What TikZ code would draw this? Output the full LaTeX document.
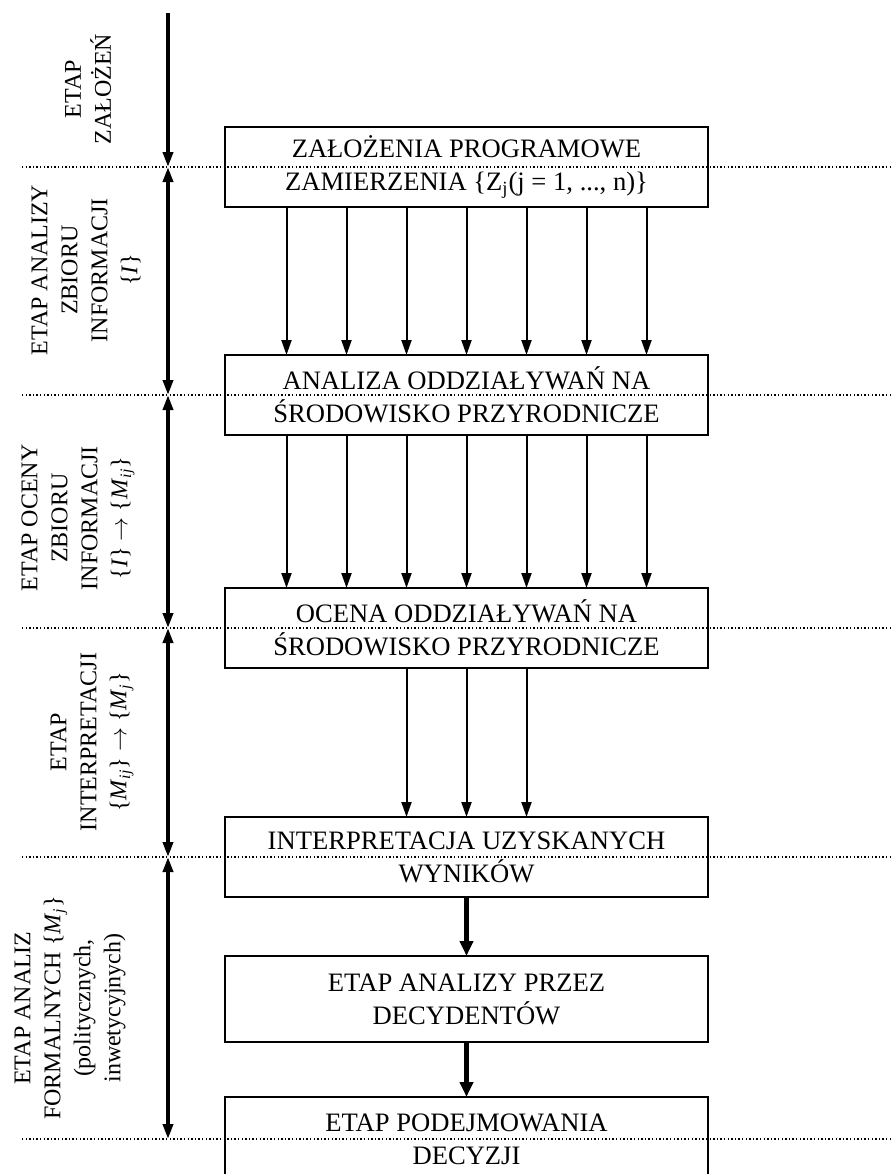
\documentclass[tikz,border=0pt]{standalone}
\usepackage{fontspec}
\setmainfont{Liberation Serif}
\usetikzlibrary{positioning,arrows.meta}

\begin{document}
\begin{tikzpicture}[
  x=0.5pt, y=-0.5pt,
  font=\fontsize{13.3}{16.5}\selectfont,
  >={Triangle[length=7.5pt, width=5pt]},
  box/.style={draw, line width=1.4pt, outer sep=0pt, align=center,
              minimum width=241.5pt, minimum height=40pt, inner sep=2pt},
  stage/.style={rotate=90, align=center, font=\fontsize{12}{15}\selectfont},
  sep/.style={line width=0.7pt, dash pattern=on 0.7pt off 1.1pt},
  axis/.style={line width=1.8pt},
  flow/.style={->, line width=1pt},
  bigflow/.style={-{Triangle[length=7.5pt, width=6.5pt]}, line width=2.3pt},
]
\useasboundingbox (0,0) rectangle (893,1174);

% ============ process boxes ============
\node[box] (b1) at (466.5,167)
  {ZAŁOŻENIA PROGRAMOWE\\ZAMIERZENIA \{Z\textsubscript{j}(j = 1, ..., n)\}};
\node[box, below=74pt of b1] (b2) {ANALIZA ODDZIAŁYWAŃ NA\\ŚRODOWISKO PRZYRODNICZE};
\node[box, below=76.5pt of b2] (b3) {OCENA ODDZIAŁYWAŃ NA\\ŚRODOWISKO PRZYRODNICZE};
\node[box, below=74.5pt of b3] (b4) {INTERPRETACJA UZYSKANYCH\\WYNIKÓW};
\node[box, minimum height=43pt, below=29.5pt of b4] (b5) {ETAP ANALIZY PRZEZ\\DECYDENTÓW};
\node[box, minimum height=42pt, below=27.5pt of b5] (b6) {ETAP PODEJMOWANIA\\DECYZJI};

% ---- flows between boxes ----
\foreach \dx in {-90,-60,...,90} {
  \draw[flow] ([xshift=\dx pt]b1.south) -- ([xshift=\dx pt]b2.north);
  \draw[flow] ([xshift=\dx pt]b2.south) -- ([xshift=\dx pt]b3.north);
}
\foreach \dx in {-30,0,30}
  \draw[flow] ([xshift=\dx pt]b3.south) -- ([xshift=\dx pt]b4.north);
\draw[bigflow] (b4) -- (b5);
\draw[bigflow] (b5) -- (b6);

% ============ stage borders (dotted) ============
\coordinate (sepL) at (22,0);
\coordinate (sepR) at (893,0);
\foreach \n in {b1,b2,b3,b4,b6}
  \draw[sep] (sepL |- \n) -- (sepR |- \n);

% ============ stage axis ============
\coordinate (axtop) at (168,13);
\draw[axis, ->] (axtop) -- (axtop |- b1);
\foreach \a/\b in {b1/b2, b2/b3, b3/b4, b4/b6}
  \draw[axis, <->] (axtop |- \a) -- (axtop |- \b);

% ---- stage labels ----
\node[stage] (lab1) at (88,89) {ETAP\\ZAŁOŻEŃ};
\node[stage] (lab2) at (86,270)
  {ETAP ANALIZY\\ZBIORU\\INFORMACJI\\\{\textit{I}\}};
\node[stage] (lab3) at (78,518)
  {ETAP OCENY\\ZBIORU\\INFORMACJI\\\{\textit{I}\} $\rightarrow$ \{\textit{M}\textsubscript{\textit{ij}}\}};
\node[stage] (lab4) at (92,742)
  {ETAP\\INTERPRETACJI\\\{\textit{M}\textsubscript{\textit{ij}}\} $\rightarrow$ \{\textit{M}\textsubscript{\textit{j}}\}};
\node[stage] (lab5) at (70,1008)
  {ETAP ANALIZ\\FORMALNYCH \{\textit{M}\textsubscript{\textit{j}}\}\\(politycznych,\\inwetycyjnych)};

\end{tikzpicture}
\end{document}
